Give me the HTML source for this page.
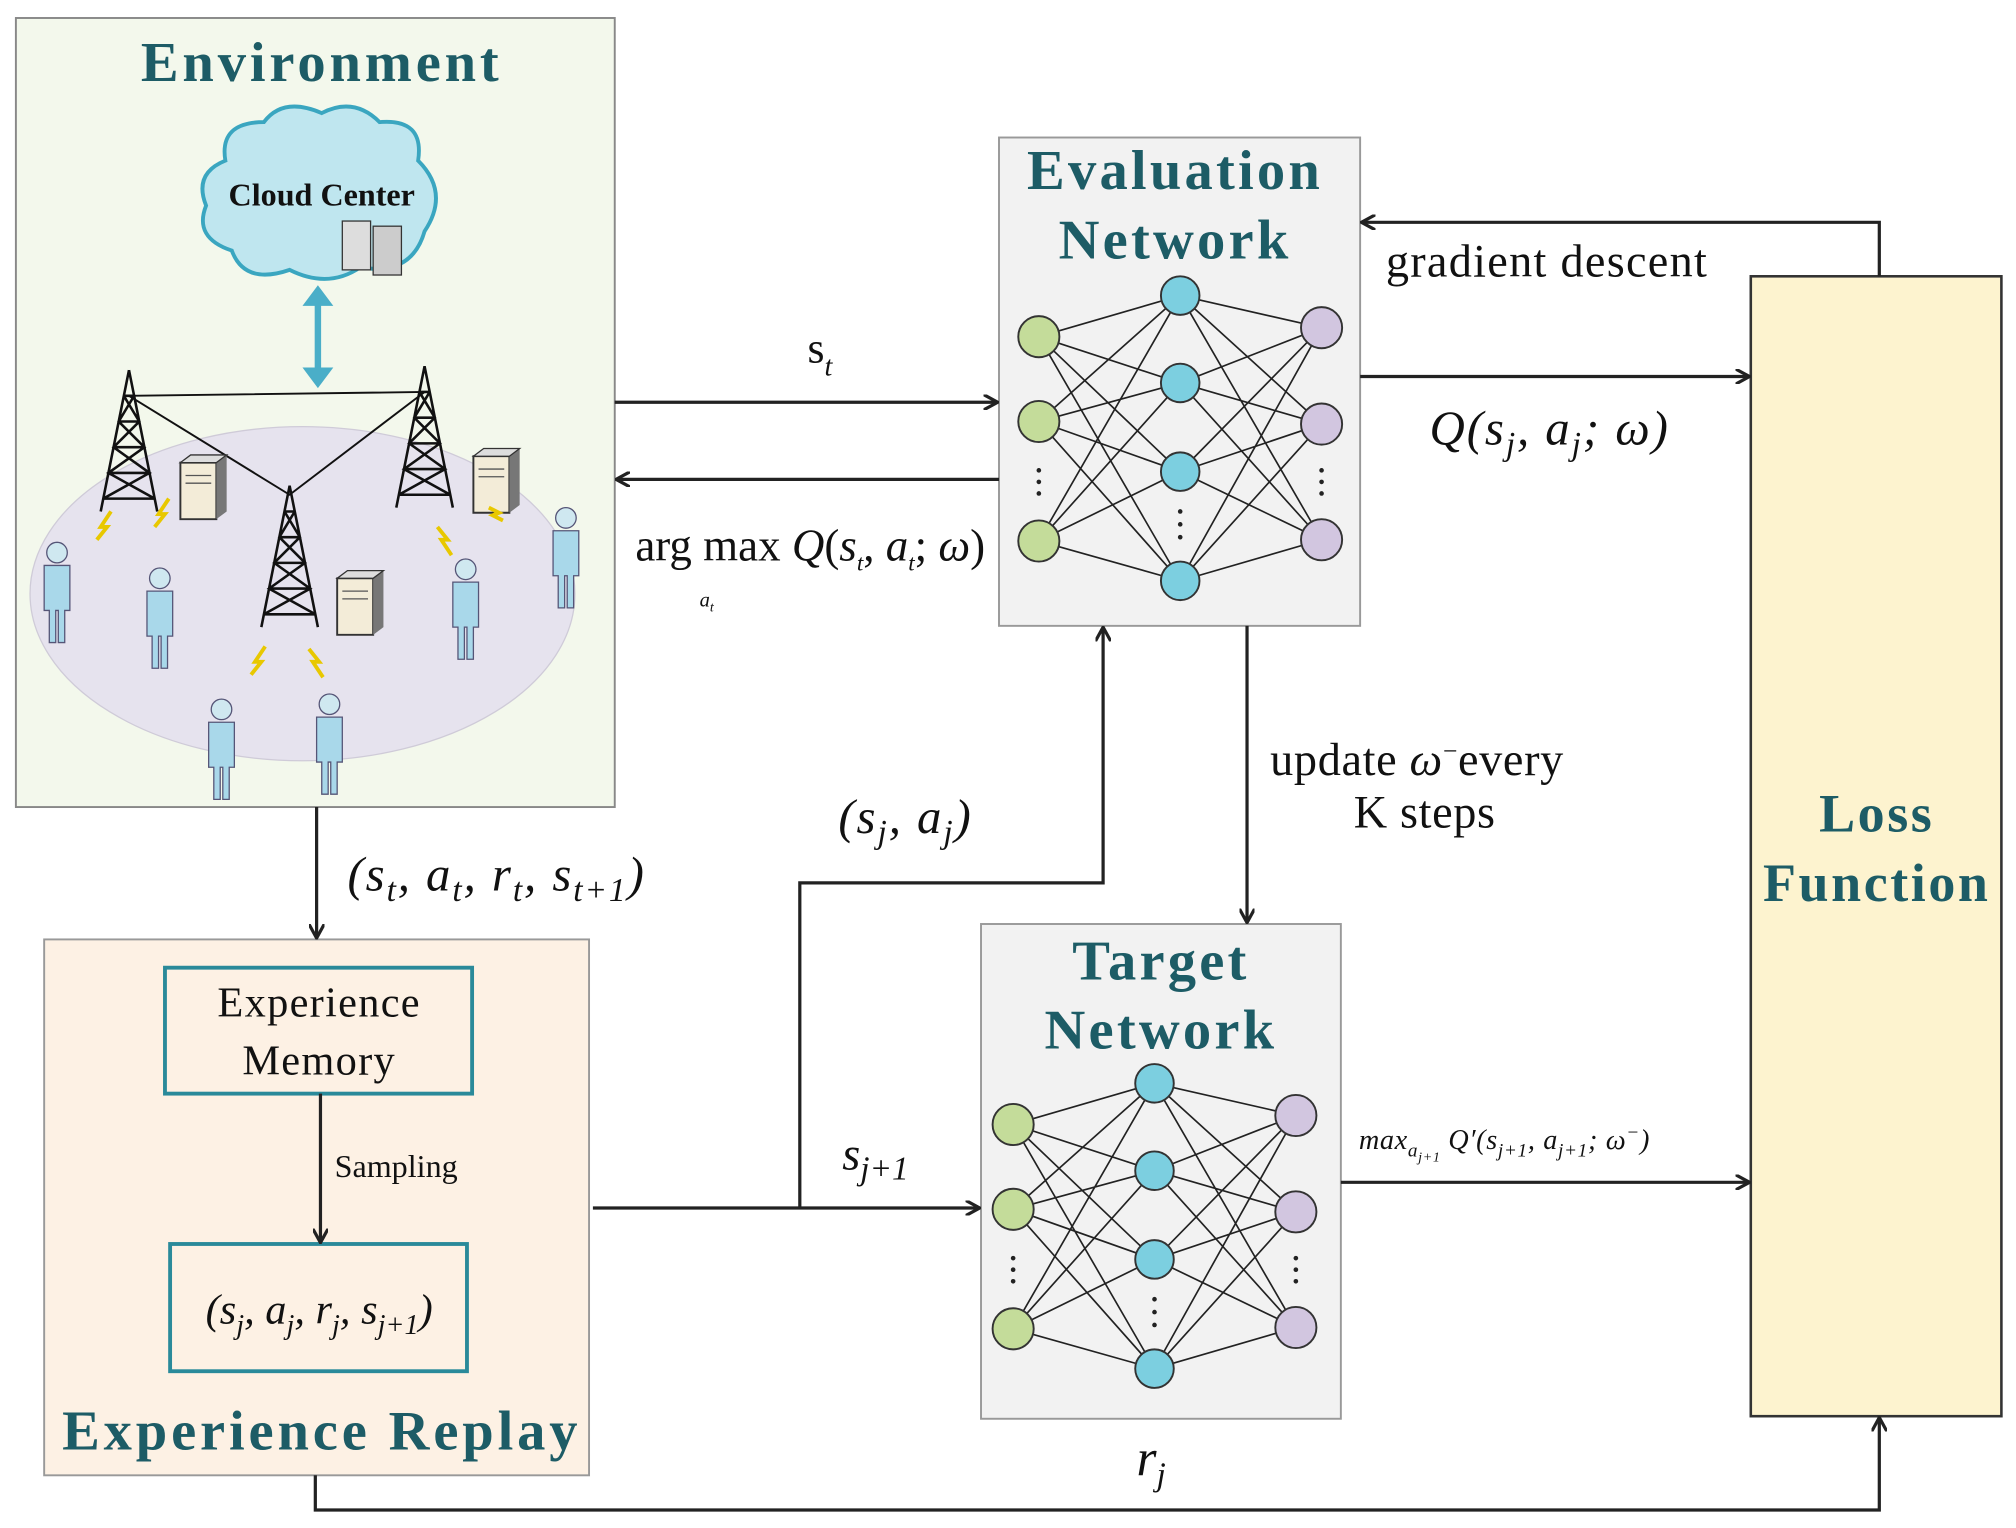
<!DOCTYPE html>
<html><head><meta charset="utf-8"><style>html,body{margin:0;padding:0;background:#fff}svg{display:block}</style></head><body>
<svg xmlns="http://www.w3.org/2000/svg" width="2016" height="1528" viewBox="0 0 1568 1189" font-family="Liberation Serif, serif">
<defs>
<marker id="ar" markerWidth="12" markerHeight="12" refX="10" refY="6" orient="auto" markerUnits="userSpaceOnUse"><path d="M0 0L11 6L0 12" fill="none" stroke="#222" stroke-width="2.5"/></marker>
<g id="net">
<path d="M808 262L918 230M808 262L918 298M808 262L918 367M808 262L918 452M808 328L918 230M808 328L918 298M808 328L918 367M808 328L918 452M808 421L918 230M808 421L918 298M808 421L918 367M808 421L918 452M918 230L1028 255M918 230L1028 330M918 230L1028 420M918 298L1028 255M918 298L1028 330M918 298L1028 420M918 367L1028 255M918 367L1028 330M918 367L1028 420M918 452L1028 255M918 452L1028 330M918 452L1028 420" stroke="#222" stroke-width="1.3" fill="none"/>
<g stroke="#333" stroke-width="1.5">
<circle cx="808" cy="262" r="16" fill="#c4dc9a"/><circle cx="808" cy="328" r="16" fill="#c4dc9a"/><circle cx="808" cy="421" r="16" fill="#c4dc9a"/>
<circle cx="918" cy="230" r="15" fill="#7ccfe0"/><circle cx="918" cy="298" r="15" fill="#7ccfe0"/><circle cx="918" cy="367" r="15" fill="#7ccfe0"/><circle cx="918" cy="452" r="15" fill="#7ccfe0"/>
<circle cx="1028" cy="255" r="16" fill="#d2c6e0"/><circle cx="1028" cy="330" r="16" fill="#d2c6e0"/><circle cx="1028" cy="420" r="16" fill="#d2c6e0"/>
</g>
<g fill="#222"><circle cx="808" cy="366" r="1.8"/><circle cx="808" cy="375" r="1.8"/><circle cx="808" cy="384" r="1.8"/>
<circle cx="918" cy="398" r="1.8"/><circle cx="918" cy="408" r="1.8"/><circle cx="918" cy="418" r="1.8"/>
<circle cx="1028" cy="366" r="1.8"/><circle cx="1028" cy="375" r="1.8"/><circle cx="1028" cy="384" r="1.8"/></g>
</g>
<g id="tower" stroke="#111" stroke-width="2" fill="none">
<path d="M0 0L-22 110M0 0L22 110M-4 20L4 20M-8 40L8 40M-12 60L12 60M-16 80L16 80M-20 100L20 100M-4 20L8 40L-12 60L16 80L-20 100M4 20L-8 40L12 60L-16 80L20 100"/>
</g>
<g id="person"><circle cx="0" cy="0" r="8" fill="#cfe8f0" stroke="#557"/><path d="M-10 10h20v35h-4v25h-5v-25h-2v25h-5v-25h-4z" fill="#a9d8ea" stroke="#557"/></g>
<g id="server"><path d="M0 0h28v44h-28z" fill="#f3ecd8" stroke="#333" stroke-width="1.5"/><path d="M28 0l8 -6v44l-8 6z" fill="#777"/><path d="M0 0l8 -6h28l-8 6z" fill="#ddd" stroke="#333"/><path d="M4 10h20M4 16h20" stroke="#555"/></g>
</defs>

<rect x="12" y="14" width="466" height="614" fill="#f3f8ec" stroke="#888" stroke-width="1.5"/>
<text x="250" y="63" text-anchor="middle" font-size="44" font-weight="bold" letter-spacing="3" fill="#1d5c66">Environment</text>
<path d="M175 125 Q170 95 205 95 Q220 75 250 88 Q275 75 295 95 Q330 92 325 125 Q350 150 330 180 Q320 215 280 208 Q255 225 225 210 Q190 222 180 195 Q150 185 160 160 Q150 135 175 125z" fill="#bfe6ef" stroke="#3aa6c0" stroke-width="3"/>
<text x="250" y="160" text-anchor="middle" font-size="25" font-weight="bold" fill="#111">Cloud Center</text>
<rect x="266" y="172" width="22" height="38" fill="#ddd" stroke="#333"/><rect x="290" y="176" width="22" height="38" fill="#ccc" stroke="#333"/>
<path d="M247 228V296" stroke="#4aaec8" stroke-width="5"/><path d="M235 238L247 222L259 238z M235 286L247 302L259 286z" fill="#4aaec8"/>
<ellipse cx="235" cy="462" rx="212" ry="130" fill="#e6e3ee" stroke="#cfcbd8"/>
<path d="M100 308L330 305M100 308L225 385L330 305" stroke="#111" stroke-width="1.5" fill="none"/>
<use href="#tower" x="100" y="288"/><use href="#tower" x="330" y="285"/><use href="#tower" x="225" y="378"/>
<use href="#server" x="140" y="360"/><use href="#server" x="368" y="355"/><use href="#server" x="262" y="450"/>
<use href="#person" x="44" y="430"/><use href="#person" x="124" y="450"/><use href="#person" x="362" y="443"/><use href="#person" x="440" y="403"/><use href="#person" x="172" y="552"/><use href="#person" x="256" y="548"/>
<g stroke="#e8c800" stroke-width="3" fill="none"><path d="M75 420l8-10-5 0 8-12"/><path d="M120 410l8-10-5 0 8-12"/><path d="M340 410l8 10-5 0 8 12"/><path d="M195 525l8-10-5 0 8-12"/><path d="M240 505l8 10-5 0 8 12"/><path d="M380 395l8 4-5 2 8 4"/></g>

<rect x="777" y="107" width="281" height="380" fill="#f2f2f2" stroke="#999" stroke-width="1.5"/>
<text x="914" y="147" text-anchor="middle" font-size="44" font-weight="bold" letter-spacing="2.5" fill="#1d5c66">Evaluation</text>
<text x="914" y="201" text-anchor="middle" font-size="44" font-weight="bold" letter-spacing="2.5" fill="#1d5c66">Network</text>
<use href="#net"/>

<rect x="763" y="719" width="280" height="385" fill="#f2f2f2" stroke="#999" stroke-width="1.5"/>
<text x="903" y="762" text-anchor="middle" font-size="44" font-weight="bold" letter-spacing="2.5" fill="#1d5c66">Target</text>
<text x="903" y="816" text-anchor="middle" font-size="44" font-weight="bold" letter-spacing="2.5" fill="#1d5c66">Network</text>
<use href="#net" x="-20" y="613"/>

<rect x="1362" y="215" width="195" height="887" fill="#fdf3cf" stroke="#333" stroke-width="2"/>
<text x="1460" y="647" text-anchor="middle" font-size="42" font-weight="bold" letter-spacing="2" fill="#1d5c66">Loss</text>
<text x="1460" y="701" text-anchor="middle" font-size="42" font-weight="bold" letter-spacing="2" fill="#1d5c66">Function</text>

<rect x="34" y="731" width="424" height="417" fill="#fdf1e4" stroke="#999" stroke-width="1.5"/>
<rect x="128" y="753" width="239" height="98" fill="none" stroke="#2a8a9a" stroke-width="3"/>
<text x="248" y="791" text-anchor="middle" font-size="33" letter-spacing="1" fill="#111">Experience</text>
<text x="248" y="836" text-anchor="middle" font-size="33" letter-spacing="1" fill="#111">Memory</text>
<rect x="132" y="968" width="231" height="99" fill="none" stroke="#2a8a9a" stroke-width="3"/>
<text x="248" y="1030" text-anchor="middle" font-size="33" font-style="italic" fill="#111">(s<tspan font-size="22" dy="8">j</tspan><tspan dy="-8">, a</tspan><tspan font-size="22" dy="8">j</tspan><tspan dy="-8">, r</tspan><tspan font-size="22" dy="8">j</tspan><tspan dy="-8">, s</tspan><tspan font-size="22" dy="8">j+1</tspan><tspan dy="-8">)</tspan></text>
<path d="M249 851V966" stroke="#222" stroke-width="2.5" marker-end="url(#ar)"/>
<text x="260" y="916" font-size="25" fill="#111">Sampling</text>
<text x="250" y="1128" text-anchor="middle" font-size="44" font-weight="bold" letter-spacing="3" fill="#1d5c66">Experience Replay</text>

<g stroke="#222" stroke-width="2.5" fill="none">
<path d="M478 313H775" marker-end="url(#ar)"/>
<path d="M777 373H480" marker-end="url(#ar)"/>
<path d="M246 628V729" marker-end="url(#ar)"/>
<path d="M461 940H761" marker-end="url(#ar)"/>
<path d="M622 940V687H858V489" marker-end="url(#ar)"/>
<path d="M1058 293H1360" marker-end="url(#ar)"/>
<path d="M1462 215V173H1060" marker-end="url(#ar)"/>
<path d="M970 487V717" marker-end="url(#ar)"/>
<path d="M1043 920H1360" marker-end="url(#ar)"/>
<path d="M245 1148V1175H1462V1104" marker-end="url(#ar)"/>
</g>

<text x="628" y="282" font-size="34" fill="#111">s<tspan font-size="22" font-style="italic" dy="10">t</tspan></text>
<text x="494" y="436" font-size="35" fill="#111">arg max <tspan font-style="italic">Q</tspan>(<tspan font-style="italic">s</tspan><tspan font-size="18" font-style="italic" dy="8">t</tspan><tspan dy="-8">, </tspan><tspan font-style="italic">a</tspan><tspan font-size="18" font-style="italic" dy="8">t</tspan><tspan dy="-8">; </tspan><tspan font-style="italic">ω</tspan>)</text>
<text x="544" y="472" font-size="16" font-style="italic" fill="#111">a<tspan font-size="11" dy="4">t</tspan></text>
<text x="270" y="693" font-size="38" font-style="italic" letter-spacing="1.5" fill="#111">(s<tspan font-size="26" dy="8">t</tspan><tspan dy="-8">, a</tspan><tspan font-size="26" dy="8">t</tspan><tspan dy="-8">, r</tspan><tspan font-size="26" dy="8">t</tspan><tspan dy="-8">, s</tspan><tspan font-size="26" dy="8">t+1</tspan><tspan dy="-8">)</tspan></text>
<text x="652" y="648" font-size="38" font-style="italic" letter-spacing="1.5" fill="#111">(s<tspan font-size="26" dy="8">j</tspan><tspan dy="-8">, a</tspan><tspan font-size="26" dy="8">j</tspan><tspan dy="-8">)</tspan></text>
<text x="655" y="910" font-size="36" font-style="italic" fill="#111">s<tspan font-size="26" dy="8">j+1</tspan></text>
<text x="1112" y="346" font-size="38" font-style="italic" letter-spacing="1.5" fill="#111">Q(s<tspan font-size="26" dy="8">j</tspan><tspan dy="-8">, a</tspan><tspan font-size="26" dy="8">j</tspan><tspan dy="-8">; ω)</tspan></text>
<text x="1078" y="215" font-size="36" letter-spacing="1" fill="#111">gradient descent</text>
<text x="988" y="603" font-size="36" letter-spacing="0.5" fill="#111">update <tspan font-style="italic">ω</tspan><tspan font-size="20" dy="-12">−</tspan><tspan dy="12">every</tspan></text>
<text x="1053" y="644" font-size="36" letter-spacing="0.5" fill="#111">K steps</text>
<text x="1057" y="894" font-size="22" font-style="italic" letter-spacing="0.5" fill="#111">max<tspan font-size="15" dy="6">a</tspan><tspan font-size="11" dy="4">j+1</tspan><tspan dy="-10"> Q′(s</tspan><tspan font-size="15" dy="6">j+1</tspan><tspan dy="-6">, a</tspan><tspan font-size="15" dy="6">j+1</tspan><tspan dy="-6">; ω</tspan><tspan font-size="15" dy="-8">−</tspan><tspan dy="8">)</tspan></text>
<text x="884" y="1148" font-size="40" font-style="italic" fill="#111">r<tspan font-size="26" dy="8">j</tspan></text>
</svg>
</body></html>
